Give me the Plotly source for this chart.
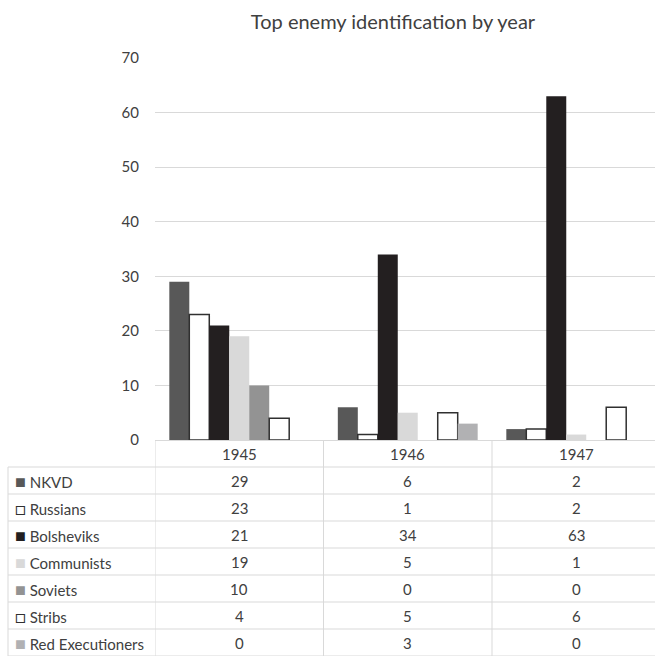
import plotly.graph_objects as go

years = ["1945", "1946", "1947"]
series = ["NKVD", "Russians", "Bolsheviks", "Communists", "Soviets", "Stribs", "Red Executioners"]
nkvd = [29, 6, 2]
russians = [23, 1, 2]
bolsheviks = [21, 34, 63]
communists = [19, 5, 1]
soviets = [10, 0, 0]
stribs = [4, 5, 6]
red_exec = [0, 3, 0]
values = [nkvd, russians, bolsheviks, communists, soviets, stribs, red_exec]

fills = ["#585858", "#ffffff", "#231f20", "#d9d9d9", "#939393", "#ffffff", "#b1b1b3"]
outlines = [None, "#303030", None, None, None, "#303030", None]
symbols = ["■", "□", "■", "■", "■", "□", "■"]

W, H = 655, 656
FONT = "Lato"
TXT = "#404040"
GRID = "#d9d9d9"

PLOT_TOP, PLOT_BOT = 58, 440      # px
ROW_H = 27
TABLE_LEFT = 8                     # px


def py(p):  # pixel y -> paper y
    return 1 - p / H


def px(p):  # pixel x -> paper x
    return p / W


fig = go.Figure()
for name, vals, fc, oc in zip(series, values, fills, outlines):
    fig.add_trace(go.Bar(
        x=years, y=vals, name=name,
        marker=dict(color=fc, line=dict(color=oc or fc, width=1.5 if oc else 0)),
    ))

shapes = []
annotations = []
n_rows = len(series) + 1
# horizontal rules of the data table
for r in range(1, n_rows + 1):
    yy = PLOT_BOT + r * ROW_H
    shapes.append(dict(type="line", xref="paper", yref="paper",
                       x0=px(TABLE_LEFT), x1=1, y0=py(yy), y1=py(yy),
                       line=dict(color=GRID, width=1)))
# vertical rules: category boundaries on the x axis
for b in [-0.5, 0.5, 1.5, 2.5]:
    shapes.append(dict(type="line", xref="x", yref="paper",
                       x0=b, x1=b, y0=py(PLOT_BOT), y1=py(PLOT_BOT + n_rows * ROW_H),
                       line=dict(color=GRID, width=1)))
shapes.append(dict(type="line", xref="paper", yref="paper",
                   x0=px(TABLE_LEFT), x1=px(TABLE_LEFT),
                   y0=py(PLOT_BOT + ROW_H), y1=py(PLOT_BOT + n_rows * ROW_H),
                   line=dict(color=GRID, width=1)))

# header row: years (placed at the category index on the x axis)
for i, yr in enumerate(years):
    annotations.append(dict(x=i, xref="x", y=py(PLOT_BOT + ROW_H / 2), yref="paper",
                            text=yr, showarrow=False, xanchor="center", yanchor="middle"))
# body rows
for r, (name, sym, fc, vals) in enumerate(zip(series, symbols, fills, values)):
    yc = py(PLOT_BOT + ROW_H * (r + 1) + ROW_H / 2)
    sc = "#303030" if sym == "□" else fc
    annotations.append(dict(x=px(13), xref="paper", y=yc, yref="paper",
                            text=f'<span style="color:{sc};font-size:18px">{sym}</span> {name}',
                            showarrow=False, xanchor="left", yanchor="middle"))
    for i, v in enumerate(vals):
        annotations.append(dict(x=i, xref="x", y=yc, yref="paper",
                                text=str(v), showarrow=False,
                                xanchor="center", yanchor="middle"))

fig.update_layout(
    template="none",
    width=W, height=H,
    margin=dict(l=0, r=0, t=0, b=0, pad=0),
    paper_bgcolor="white", plot_bgcolor="white",
    barmode="group", bargap=0.17, bargroupgap=0,
    showlegend=False,
    font=dict(family=FONT, color=TXT, size=15),
    title=dict(text="Top enemy identification by year", x=393 / W, xanchor="center",
               y=1 - 22 / H, yanchor="middle",
               font=dict(family=FONT, size=20, color=TXT)),
    xaxis=dict(type="category", domain=[155 / W, 1], range=[-0.5, -0.5 + 500 / 168.5],
               automargin=False,
               showticklabels=False, showgrid=False, zeroline=False, showline=False,
               ticks=""),
    yaxis=dict(domain=[py(PLOT_BOT), py(PLOT_TOP)], range=[0, 70], dtick=10, automargin=False,
               showgrid=True, gridcolor=GRID, gridwidth=1,
               zeroline=True, zerolinecolor=GRID, zerolinewidth=1,
               showline=False, ticks="", ticklabelstandoff=15,
               tickfont=dict(family=FONT, size=15, color=TXT)),
    shapes=shapes,
    annotations=annotations,
)

fig.write_html("out.html")
